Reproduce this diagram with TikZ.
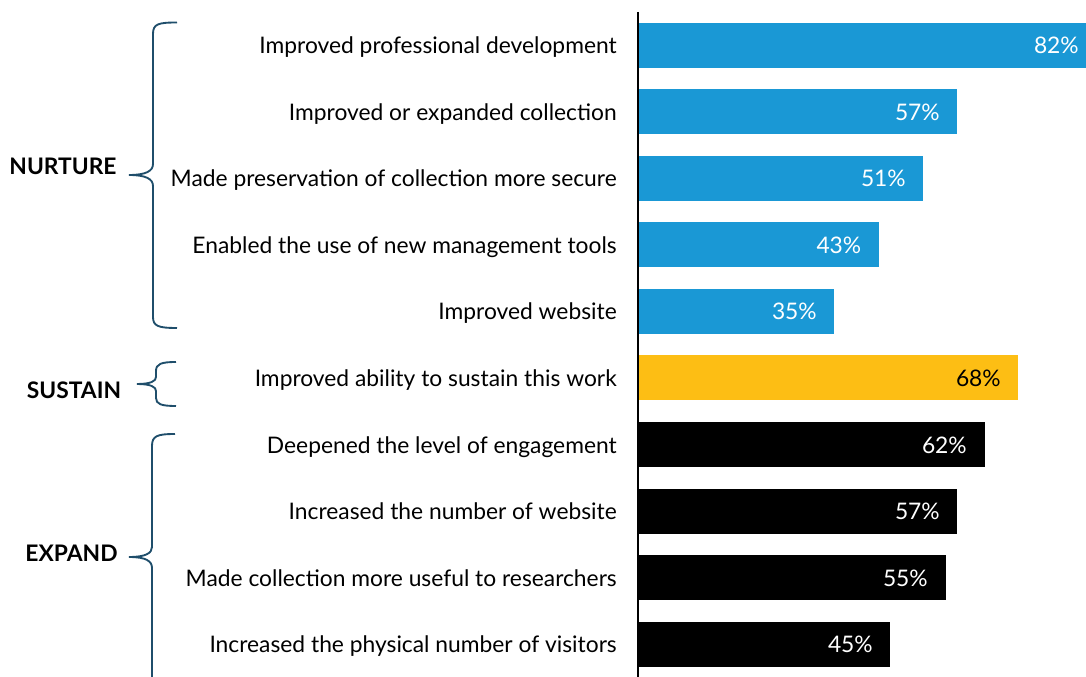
\documentclass[tikz,border=0pt]{standalone}
\usepackage{fontspec}
\setmainfont{Lato}
\usepackage{xcolor}
\definecolor{barblue}{RGB}{26,152,213}
\definecolor{baryellow}{RGB}{253,190,20}
\definecolor{bracecol}{RGB}{31,78,107}
\tikzset{
  item/.style={anchor=base east,inner sep=0pt,font=\fontsize{17.1pt}{20pt}\selectfont},
  pct/.style={anchor=base east,inner sep=0pt,text=white,font=\fontsize{17.1pt}{20pt}\selectfont},
  group/.style={anchor=base,inner sep=0pt,font=\fontsize{17.1pt}{20pt}\selectfont\bfseries},
  brace/.style={draw=bracecol,line width=1.4pt}
}
\begin{document}
\begin{tikzpicture}[x=0.75pt,y=-0.75pt]
        \useasboundingbox (0,0) rectangle (1086,677);
        \clip (0,0) rectangle (1086,677);

        % Nurture bars
        \fill[barblue] (639,23) rectangle (1096,68);
        \fill[barblue] (639,89.5) rectangle (956.5,134.5);
        \fill[barblue] (639,156) rectangle (923,201);
        \fill[barblue] (639,222.5) rectangle (878.5,267.5);
        \fill[barblue] (639,289) rectangle (834,334);
        \node[pct] (n1) at (1079,54) {82\%};
        \node[pct] (n2) at (940,120.5) {57\%};
        \node[pct] (n3) at (906,187) {51\%};
        \node[pct] (n4) at (861.5,253.5) {43\%};
        \node[pct] (n5) at (817,320) {35\%};
        \node[item] (l1) at (617,54) {Improved professional development};
        \node[item] (l2) at (617,120.5) {Improved or expanded collection};
        \node[item] (l3) at (617,187) {Made preservation of collection more secure};
        \node[item] (l4) at (617,253.5) {Enabled the use of new management tools};
        \node[item] (l5) at (617,320) {Improved website};

        % Sustain bar
        \fill[baryellow] (639,355.5) rectangle (1018,400.5);
        \node[pct,text=black] (s1) at (1001,386.5) {68\%};
        \node[item] (l6) at (617,386.5) {Improved ability to sustain this work};

        % Expand bars
        \fill[black] (639,422) rectangle (984.5,467);
        \fill[black] (639,488.5) rectangle (956.5,533.5);
        \fill[black] (639,555) rectangle (945.5,600);
        \fill[black] (639,621.5) rectangle (890,666.5);
        \node[pct] (e1) at (967,453) {62\%};
        \node[pct] (e2) at (940,519.5) {57\%};
        \node[pct] (e3) at (928,586) {55\%};
        \node[pct] (e4) at (873,652.5) {45\%};
        \node[item] (l7) at (617,453) {Deepened the level of engagement};
        \node[item] (l8) at (617,519.5) {Increased the number of website};
        \node[item] (l9) at (617,586) {Made collection more useful to researchers};
        \node[item] (l10) at (617,652.5) {Increased the physical number of visitors};

        % Axis
        \draw[line width=1.5pt] (638,12) -- (638,677);

        % Braces and group names
        \draw[brace] (177,22.5) .. controls (158,22.5) and (153,24) .. (153,34)
          -- (153,164) .. controls (153,171) and (146,175) .. (129,175)
          .. controls (146,175) and (153,179) .. (153,186)
          -- (153,317) .. controls (153,326) and (158,328) .. (177,328);
        \draw[brace] (176,362) .. controls (161,362) and (156,364) .. (156,371)
          -- (156,377) .. controls (156,381) and (151,384) .. (137,384)
          .. controls (151,384) and (156,387) .. (156,391)
          -- (156,398) .. controls (156,404) and (161,406) .. (176,406);
        \draw[brace] (175,434) .. controls (157,434) and (152,436) .. (152,446)
          -- (152,547) .. controls (152,553) and (146,557) .. (129,557)
          .. controls (146,557) and (152,561) .. (152,568)
          -- (152,690);
        \node[group] (nurture) at (63,175) {NURTURE};
        \node[group] (sustain) at (74,398.5) {SUSTAIN};
        \node[group] (expand) at (71.5,561) {EXPAND};
    \end{tikzpicture}
\end{document}
